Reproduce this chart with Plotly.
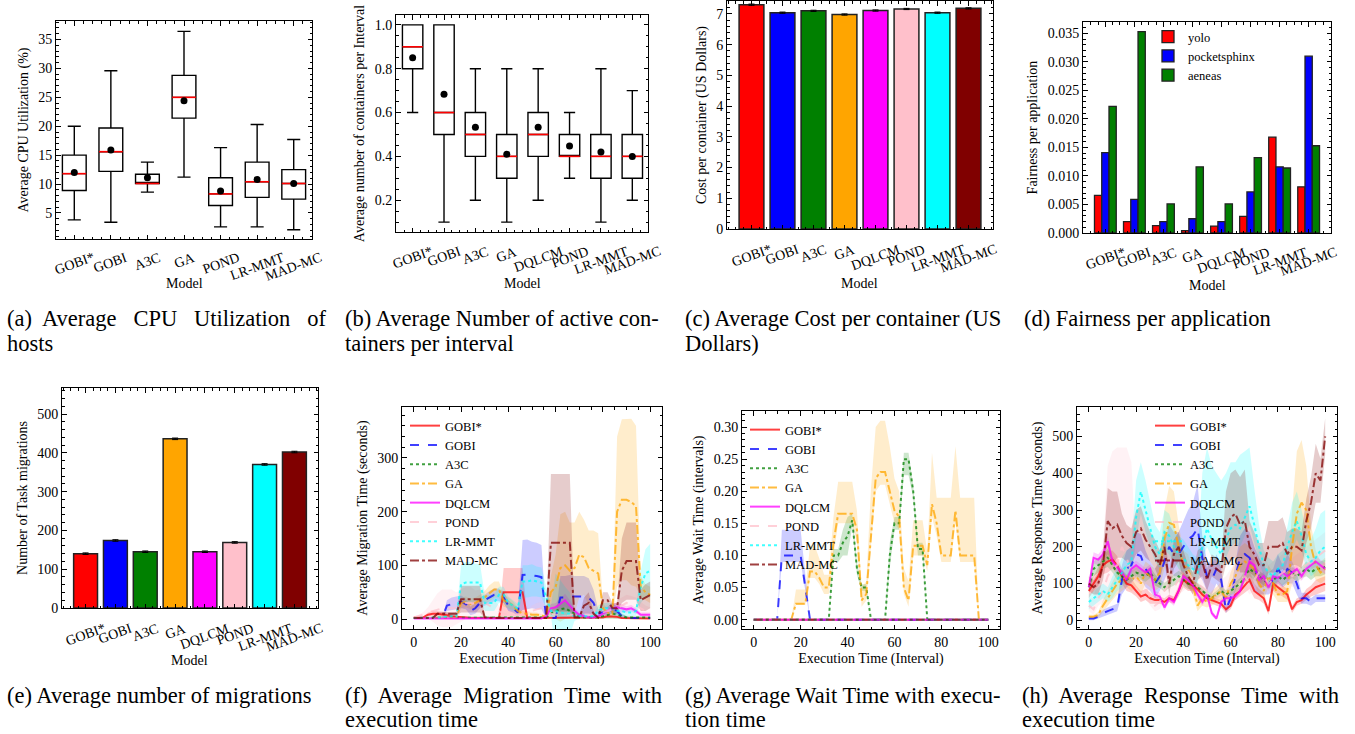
import plotly.graph_objects as go

W, H = 1355, 734
FONT = "Liberation Serif"

# ---------------- data ----------------
MODELS7 = ["GOBI*", "GOBI", "A3C", "GA", "POND", "LR-MMT", "MAD-MC"]
MODELS8 = ["GOBI*", "GOBI", "A3C", "GA", "DQLCM", "POND", "LR-MMT", "MAD-MC"]
MODEL_COLORS = ["red", "blue", "green", "orange", "magenta", "pink", "cyan", "maroon"]

# (a) CPU utilisation box stats
CPU_LOW = [3.8, 3.4, 8.6, 11.2, 2.6, 2.6, 2.1]
CPU_Q1 = [8.9, 12.2, 10.1, 21.4, 6.3, 7.7, 7.4]
CPU_MED = [11.8, 15.6, 10.1, 25.0, 8.3, 10.4, 10.1]
CPU_Q3 = [15.0, 19.7, 11.7, 28.8, 11.1, 13.8, 12.5]
CPU_HIGH = [20.0, 29.6, 13.8, 36.4, 16.3, 20.3, 17.7]
CPU_MEAN = [12.0, 15.9, 11.1, 24.4, 8.8, 10.8, 10.1]

# (b) active containers box stats
CONT_LOW = [0.6, 0.1, 0.2, 0.1, 0.2, 0.3, 0.1, 0.2]
CONT_Q1 = [0.8, 0.5, 0.4, 0.3, 0.4, 0.4, 0.3, 0.3]
CONT_MED = [0.9, 0.6, 0.5, 0.4, 0.5, 0.4, 0.4, 0.4]
CONT_Q3 = [1.0, 1.0, 0.6, 0.5, 0.6, 0.5, 0.5, 0.5]
CONT_HIGH = [1.0, 1.0, 0.8, 0.8, 0.8, 0.6, 0.8, 0.7]
CONT_MEAN = [0.85, 0.683, 0.533, 0.41, 0.533, 0.447, 0.42, 0.40]

# (c) cost per container
COST = [7.30, 7.04, 7.10, 6.98, 7.11, 7.16, 7.04, 7.18]
COST_ERR = [0.02, 0.02, 0.02, 0.02, 0.02, 0.02, 0.02, 0.02]

# (d) fairness
APPS = ["yolo", "pocketsphinx", "aeneas"]
APP_COLORS = ["red", "blue", "green"]
FAIR_YOLO = [0.0066, 0.0020, 0.0013, 0.0004, 0.0012, 0.0029, 0.0168, 0.0081]
FAIR_POCKET = [0.0141, 0.0059, 0.0020, 0.0025, 0.0020, 0.0072, 0.0116, 0.0310]
FAIR_AENEAS = [0.0222, 0.0353, 0.0051, 0.0116, 0.0051, 0.0132, 0.0114, 0.0153]

# (e) migrations
MIGR = [140, 174, 145, 436, 145, 169, 370, 402]
MIGR_ERR = [2, 2, 2, 2, 2, 2, 2, 2]

# time axis (intervals)
X = [0, 2, 4, 6, 8, 10, 12, 14, 16, 18, 20, 22, 24, 26, 28, 30, 32, 34, 36, 38,
     40, 42, 44, 46, 48, 50, 52, 54, 56, 58, 60, 62, 64, 66, 68, 70, 72, 74, 76, 78,
     80, 82, 84, 86, 88, 90, 92, 94, 96, 98, 100]

# (f) migration time: mean and band spread
F_GOBIS = [3, 3, 3, 8, 10, 10, 9, 7, 5, 4, 3, 3, 2, 2, 2, 2, 2, 2, 2, 50,
           50, 50, 50, 50, 2, 2, 2, 2, 2, 2, 2, 3, 3, 3, 3, 3, 2, 2, 2, 2,
           3, 5, 5, 4, 2, 2, 2, 2, 1, 1, 1]
F_GOBIS_SP = [1, 1, 1, 4, 5, 5, 5, 4, 3, 2, 2, 2, 1, 1, 1, 1, 1, 1, 1, 45,
              45, 45, 45, 45, 1, 1, 1, 1, 1, 1, 1, 2, 2, 2, 2, 2, 1, 1, 1, 1,
              2, 3, 3, 3, 1, 1, 1, 1, 1, 1, 1]
F_GOBI = [2, 2, 2, 2, 2, 2, 2, 25, 28, 30, 32, 28, 15, 20, 30, 35, 40, 45, 45, 40,
          25, 20, 12, 82, 83, 82, 80, 78, 3, 2, 2, 40, 40, 42, 42, 42, 42, 40, 30, 10,
          12, 15, 20, 15, 5, 3, 2, 2, 2, 2, 2]
F_GOBI_SP = [1, 1, 1, 1, 1, 1, 1, 10, 12, 12, 12, 10, 8, 10, 10, 10, 12, 12, 12, 10,
             10, 8, 6, 65, 65, 62, 62, 60, 2, 1, 1, 40, 40, 40, 38, 38, 38, 36, 25, 8,
             8, 8, 10, 8, 4, 2, 1, 1, 1, 1, 1]
F_A3C = [2, 2, 2, 2, 3, 3, 3, 3, 3, 3, 3, 3, 3, 3, 3, 3, 3, 3, 3, 3,
         3, 3, 3, 3, 3, 3, 3, 3, 3, 10, 15, 18, 20, 15, 10, 5, 3, 3, 3, 3,
         5, 8, 10, 8, 5, 3, 3, 3, 3, 3, 3]
F_A3C_SP = [1, 1, 1, 1, 2, 2, 2, 2, 2, 2, 2, 2, 2, 2, 2, 2, 2, 2, 2, 2,
            2, 2, 2, 2, 2, 2, 2, 2, 2, 6, 10, 12, 12, 10, 6, 4, 3, 3, 3, 3,
            5, 8, 10, 8, 5, 3, 3, 3, 3, 3, 3]
F_GA = [2, 2, 2, 2, 2, 2, 2, 2, 2, 2, 30, 32, 28, 30, 35, 40, 48, 55, 55, 35,
        30, 25, 15, 10, 10, 8, 8, 6, 5, 50, 60, 95, 100, 90, 95, 120, 115, 95, 90, 85,
        20, 12, 10, 200, 222, 222, 218, 210, 60, 50, 45]
F_GA_SP = [1, 1, 1, 1, 1, 1, 1, 1, 1, 1, 10, 10, 10, 10, 10, 12, 15, 15, 15, 12,
           10, 8, 6, 5, 5, 4, 4, 3, 3, 30, 60, 100, 100, 90, 85, 80, 70, 70, 75, 75,
           10, 6, 5, 140, 150, 150, 155, 150, 20, 15, 15]
F_DQLCM = [1, 1, 1, 1, 1, 1, 1, 1, 1, 1, 1, 1, 1, 1, 1, 1, 1, 1, 1, 1,
           1, 1, 1, 1, 1, 1, 1, 1, 5, 20, 22, 28, 35, 25, 15, 8, 5, 3, 3, 5,
           10, 15, 20, 22, 20, 18, 20, 15, 8, 8, 8]
F_DQLCM_SP = [1, 1, 1, 1, 1, 1, 1, 1, 1, 1, 1, 1, 1, 1, 1, 1, 1, 1, 1, 1,
              1, 1, 1, 1, 1, 1, 1, 1, 3, 8, 8, 10, 12, 10, 6, 4, 3, 2, 2, 3,
              5, 6, 8, 8, 8, 6, 6, 5, 4, 4, 4]
F_POND = [3, 5, 8, 12, 15, 18, 20, 20, 20, 20, 25, 30, 30, 28, 30, 30, 25, 20, 15, 10,
          8, 8, 8, 8, 10, 15, 18, 20, 15, 10, 8, 8, 8, 8, 8, 8, 8, 8, 8, 10,
          12, 15, 18, 20, 25, 30, 28, 25, 20, 15, 12]
F_POND_SP = [2, 3, 5, 10, 20, 30, 35, 35, 35, 30, 30, 30, 30, 25, 25, 25, 20, 15, 10, 8,
             6, 6, 6, 6, 8, 10, 12, 12, 10, 8, 6, 6, 6, 6, 6, 6, 6, 6, 6, 8,
             10, 12, 12, 15, 15, 15, 15, 15, 12, 10, 10]
F_LRMMT = [2, 2, 2, 2, 2, 2, 3, 5, 5, 5, 65, 68, 68, 68, 68, 30, 30, 30, 45, 45,
           30, 25, 20, 70, 70, 72, 70, 68, 40, 15, 15, 12, 10, 10, 5, 5, 5, 5, 5, 15,
           20, 20, 20, 15, 15, 12, 12, 15, 60, 85, 90]
F_LRMMT_SP = [1, 1, 1, 1, 1, 1, 2, 3, 3, 3, 35, 38, 38, 35, 35, 15, 15, 15, 15, 15,
              12, 10, 8, 30, 30, 30, 28, 28, 20, 10, 70, 60, 50, 40, 8, 5, 4, 4, 4, 10,
              10, 10, 10, 8, 8, 6, 6, 8, 30, 45, 50]
F_MADMC = [2, 2, 2, 2, 2, 10, 10, 10, 10, 10, 37, 37, 37, 37, 37, 3, 2, 2, 2, 2,
           2, 2, 2, 2, 2, 2, 2, 2, 2, 142, 142, 142, 142, 142, 3, 3, 25, 30, 10, 3,
           35, 35, 20, 20, 90, 108, 108, 108, 35, 40, 45]
F_MADMC_SP = [1, 1, 1, 1, 1, 3, 3, 3, 3, 3, 25, 25, 25, 25, 25, 2, 1, 1, 1, 1,
              1, 1, 1, 1, 1, 1, 1, 1, 1, 128, 128, 128, 128, 128, 2, 2, 15, 20, 5, 2,
              15, 15, 10, 10, 60, 72, 72, 72, 20, 25, 25]

# (g) wait time: mean, lower spread, upper spread
ZERO51 = [0, 0, 0, 0, 0, 0, 0, 0, 0, 0, 0, 0, 0, 0, 0, 0, 0, 0, 0, 0,
          0, 0, 0, 0, 0, 0, 0, 0, 0, 0, 0, 0, 0, 0, 0, 0, 0, 0, 0, 0,
          0, 0, 0, 0, 0, 0, 0, 0, 0, 0, 0]
G_GOBI = [0, 0, 0, 0, 0, 0, 0.1, 0.1, 0.1, 0.1, 0.1, 0.05, 0, 0, 0, 0, 0, 0, 0, 0,
          0, 0, 0, 0, 0, 0, 0, 0, 0, 0, 0, 0, 0, 0, 0, 0, 0, 0, 0, 0,
          0, 0, 0, 0, 0, 0, 0, 0, 0, 0, 0]
G_GOBI_LO = [0, 0, 0, 0, 0, 0, 0.01, 0.01, 0.01, 0.01, 0.01, 0.005, 0, 0, 0, 0, 0, 0, 0, 0,
             0, 0, 0, 0, 0, 0, 0, 0, 0, 0, 0, 0, 0, 0, 0, 0, 0, 0, 0, 0,
             0, 0, 0, 0, 0, 0, 0, 0, 0, 0, 0]
G_GOBI_HI = [0, 0, 0, 0, 0, 0, 0.04, 0.04, 0.04, 0.04, 0.04, 0.02, 0, 0, 0, 0, 0, 0, 0, 0,
             0, 0, 0, 0, 0, 0, 0, 0, 0, 0, 0, 0, 0, 0, 0, 0, 0, 0, 0, 0,
             0, 0, 0, 0, 0, 0, 0, 0, 0, 0, 0]
G_A3C = [0, 0, 0, 0, 0, 0, 0, 0, 0, 0, 0, 0, 0, 0, 0, 0, 0, 0.1, 0.1, 0.12,
         0.13, 0.155, 0.08, 0.05, 0.05, 0, 0, 0, 0, 0.1, 0.15, 0.15, 0.25, 0.25, 0.2, 0.11, 0.11, 0, 0, 0,
         0, 0, 0, 0, 0, 0, 0, 0, 0, 0, 0]
G_A3C_LO = [0, 0, 0, 0, 0, 0, 0, 0, 0, 0, 0, 0, 0, 0, 0, 0, 0, 0.01, 0.01, 0.02,
            0.03, 0.01, 0.01, 0.005, 0.005, 0, 0, 0, 0, 0.02, 0.01, 0.01, 0.025, 0.025, 0.01, 0.01, 0.01, 0, 0, 0,
            0, 0, 0, 0, 0, 0, 0, 0, 0, 0, 0]
G_A3C_HI = [0, 0, 0, 0, 0, 0, 0, 0, 0, 0, 0, 0, 0, 0, 0, 0, 0, 0.01, 0.01, 0.02,
            0.03, 0.01, 0.01, 0.005, 0.005, 0, 0, 0, 0, 0.02, 0.01, 0.01, 0.01, 0.01, 0.01, 0.01, 0.01, 0, 0, 0,
            0, 0, 0, 0, 0, 0, 0, 0, 0, 0, 0]
G_GA = [0, 0, 0, 0, 0, 0, 0, 0, 0, 0.025, 0.025, 0.025, 0.075, 0.075, 0.065, 0.05, 0.05, 0.12, 0.165, 0.165,
        0.165, 0.165, 0.14, 0.03, 0.04, 0.135, 0.22, 0.23, 0.23, 0.2, 0.17, 0.16, 0.05, 0.03, 0.115, 0.115, 0.115, 0.085, 0.18, 0.15,
        0.1, 0.1, 0.1, 0.17, 0.1, 0.1, 0.1, 0.1, 0, 0, 0]
G_GA_LO = [0, 0, 0, 0, 0, 0, 0, 0, 0, 0.002, 0.002, 0.002, 0.01, 0.01, 0.01, 0.01, 0.01, 0.02, 0.015, 0.015,
           0.015, 0.015, 0.02, 0.01, 0.01, 0.02, 0.02, 0.02, 0.02, 0.02, 0.02, 0.02, 0.01, 0.01, 0.015, 0.015, 0.015, 0.01, 0.02, 0.02,
           0.01, 0.01, 0.01, 0.02, 0.01, 0.01, 0.01, 0.01, 0, 0, 0]
G_GA_HI = [0, 0, 0, 0, 0, 0, 0, 0, 0, 0.022, 0.022, 0.022, 0.04, 0.04, 0.03, 0.02, 0.02, 0.04, 0.05, 0.05,
           0.05, 0.05, 0.03, 0.02, 0.02, 0.07, 0.08, 0.08, 0.08, 0.07, 0.05, 0.04, 0.03, 0.03, 0.04, 0.04, 0.04, 0.02, 0.08, 0.04,
           0.09, 0.09, 0.09, 0.1, 0.09, 0.09, 0.09, 0.09, 0, 0, 0]

# (h) response time: mean, lower spread, upper spread
H_GOBIS = [80, 100, 120, 150, 160, 165, 150, 120, 100, 95, 80, 65, 70, 60, 55, 55, 50, 60, 55, 80,
           110, 100, 95, 85, 70, 60, 55, 50, 45, 30, 40, 70, 80, 95, 110, 80, 70, 60, 25, 100,
           90, 80, 70, 30, 50, 55, 70, 80, 90, 95, 100]
H_GOBIS_SP = [20, 20, 25, 25, 30, 25, 25, 20, 20, 20, 15, 15, 15, 15, 10, 10, 10, 10, 10, 15,
              20, 20, 15, 15, 15, 10, 10, 10, 10, 10, 10, 15, 15, 20, 25, 20, 15, 15, 10, 20,
              20, 15, 15, 10, 10, 10, 15, 15, 20, 20, 20]
H_GOBI = [5, 5, 10, 20, 25, 30, 35, 110, 140, 150, 180, 175, 140, 120, 100, 120, 160, 200, 180, 180,
          200, 220, 230, 250, 170, 120, 110, 140, 110, 30, 60, 120, 170, 180, 170, 140, 120, 110, 100, 110,
          140, 120, 140, 130, 100, 60, 60, 50, 60, 60, 60]
H_GOBI_SP = [5, 5, 5, 8, 10, 10, 10, 40, 50, 50, 60, 60, 50, 40, 40, 40, 50, 60, 60, 60,
             70, 80, 90, 120, 60, 40, 40, 40, 30, 10, 20, 40, 60, 70, 70, 60, 50, 40, 30, 30,
             40, 30, 40, 30, 30, 15, 15, 10, 10, 10, 10]
H_A3C = [90, 140, 150, 160, 170, 150, 130, 120, 110, 120, 130, 125, 120, 130, 110, 100, 90, 100, 110, 120,
         110, 100, 95, 90, 80, 70, 60, 70, 80, 70, 80, 90, 100, 120, 140, 130, 120, 110, 100, 110,
         120, 110, 120, 130, 120, 130, 140, 130, 140, 140, 145]
H_A3C_SP = [15, 20, 20, 20, 25, 20, 20, 15, 15, 15, 15, 15, 15, 15, 15, 12, 12, 12, 15, 15,
            15, 15, 12, 12, 12, 10, 10, 10, 12, 12, 12, 15, 15, 15, 20, 20, 15, 15, 15, 15,
            15, 15, 15, 15, 15, 15, 20, 20, 20, 20, 20]
H_GA = [10, 10, 15, 40, 60, 80, 100, 110, 120, 110, 120, 100, 130, 120, 110, 130, 220, 265, 260, 200,
        150, 140, 100, 40, 60, 50, 60, 70, 80, 60, 100, 120, 150, 160, 150, 140, 100, 80, 120, 100,
        70, 70, 80, 200, 290, 320, 300, 200, 150, 130, 140]
H_GA_SP = [5, 5, 8, 15, 20, 25, 30, 30, 30, 30, 30, 30, 30, 30, 30, 40, 80, 100, 90, 60,
           40, 40, 30, 15, 20, 15, 20, 20, 25, 20, 30, 40, 50, 50, 50, 40, 30, 25, 30, 30,
           20, 20, 30, 100, 170, 170, 120, 60, 40, 30, 30]
H_DQLCM = [90, 170, 165, 180, 215, 160, 145, 130, 110, 140, 150, 140, 130, 140, 70, 65, 35, 60, 50, 80,
           120, 110, 95, 70, 50, 70, 20, 5, 50, 60, 60, 65, 80, 120, 160, 150, 110, 120, 90, 120,
           115, 130, 120, 130, 140, 120, 140, 150, 160, 150, 140]
H_DQLCM_SP = [10, 15, 15, 15, 15, 15, 15, 12, 12, 12, 12, 12, 12, 12, 10, 10, 8, 10, 10, 10,
              12, 12, 10, 10, 10, 10, 8, 5, 10, 10, 10, 10, 10, 12, 15, 15, 12, 12, 10, 12,
              12, 12, 12, 12, 12, 12, 12, 12, 15, 15, 15]
H_POND = [40, 30, 60, 80, 120, 140, 150, 200, 170, 130, 110, 100, 90, 60, 40, 50, 80, 100, 90, 110,
          120, 130, 110, 100, 90, 80, 70, 60, 70, 80, 90, 100, 110, 120, 100, 110, 130, 120, 100, 110,
          120, 130, 140, 120, 130, 140, 150, 160, 170, 180, 190]
H_POND_LO = [15, 15, 20, 30, 50, 60, 60, 60, 60, 50, 40, 40, 30, 20, 15, 20, 30, 40, 30, 40,
             40, 40, 40, 40, 30, 30, 20, 20, 25, 30, 30, 30, 30, 30, 30, 30, 30, 30, 30, 30,
             30, 30, 30, 30, 30, 30, 30, 30, 30, 30, 30]
H_POND_HI = [20, 30, 60, 120, 300, 320, 320, 270, 300, 300, 80, 60, 50, 40, 30, 30, 40, 50, 40, 50,
             60, 60, 50, 50, 40, 40, 30, 30, 40, 40, 50, 60, 60, 60, 50, 50, 60, 60, 50, 50,
             50, 50, 60, 50, 50, 50, 50, 50, 50, 50, 50]
H_LRMMT = [50, 60, 70, 80, 70, 90, 110, 130, 150, 160, 280, 350, 300, 250, 200, 180, 240, 230, 200, 180,
           170, 150, 140, 130, 200, 250, 220, 200, 180, 220, 250, 260, 250, 280, 310, 260, 200, 150, 130, 120,
           140, 150, 200, 240, 270, 230, 180, 160, 170, 190, 200]
H_LRMMT_LO = [20, 20, 20, 20, 20, 30, 30, 40, 40, 40, 60, 60, 60, 50, 40, 40, 50, 50, 40, 40,
              40, 40, 30, 30, 40, 50, 50, 40, 40, 50, 50, 50, 50, 50, 50, 50, 40, 30, 30, 30,
              30, 30, 40, 50, 50, 40, 40, 40, 40, 40, 40]
H_LRMMT_HI = [20, 20, 20, 20, 20, 30, 30, 40, 40, 40, 100, 80, 80, 70, 60, 60, 60, 60, 50, 50,
              50, 50, 40, 40, 200, 220, 200, 200, 200, 180, 180, 170, 200, 180, 160, 100, 60, 40, 40, 40,
              40, 40, 60, 80, 80, 70, 60, 60, 80, 100, 100]
H_MADMC = [100, 90, 100, 150, 270, 250, 260, 230, 210, 200, 240, 250, 220, 200, 180, 150, 200, 100, 180, 200,
           150, 120, 100, 150, 160, 110, 150, 140, 130, 250, 280, 290, 260, 270, 200, 180, 150, 150, 200, 200,
           200, 210, 180, 200, 200, 190, 270, 320, 400, 380, 500]
H_MADMC_SP = [20, 20, 30, 40, 90, 100, 90, 60, 50, 50, 60, 60, 50, 40, 40, 40, 40, 30, 40, 40,
              40, 30, 30, 40, 40, 30, 30, 30, 30, 100, 120, 120, 130, 140, 70, 60, 60, 60, 70, 70,
              70, 70, 60, 50, 50, 50, 60, 70, 80, 60, 50]

F_SERIES = [(F_GOBIS, F_GOBIS_SP, F_GOBIS_SP), (F_GOBI, F_GOBI_SP, F_GOBI_SP),
            (F_A3C, F_A3C_SP, F_A3C_SP), (F_GA, F_GA_SP, F_GA_SP),
            (F_DQLCM, F_DQLCM_SP, F_DQLCM_SP), (F_POND, F_POND_SP, F_POND_SP),
            (F_LRMMT, F_LRMMT_SP, F_LRMMT_SP), (F_MADMC, F_MADMC_SP, F_MADMC_SP)]
G_SERIES = [(ZERO51, ZERO51, ZERO51), (G_GOBI, G_GOBI_LO, G_GOBI_HI),
            (G_A3C, G_A3C_LO, G_A3C_HI), (G_GA, G_GA_LO, G_GA_HI),
            (ZERO51, ZERO51, ZERO51), (ZERO51, ZERO51, ZERO51),
            (ZERO51, ZERO51, ZERO51), (ZERO51, ZERO51, ZERO51)]
H_SERIES = [(H_GOBIS, H_GOBIS_SP, H_GOBIS_SP), (H_GOBI, H_GOBI_SP, H_GOBI_SP),
            (H_A3C, H_A3C_SP, H_A3C_SP), (H_GA, H_GA_SP, H_GA_SP),
            (H_DQLCM, H_DQLCM_SP, H_DQLCM_SP), (H_POND, H_POND_LO, H_POND_HI),
            (H_LRMMT, H_LRMMT_LO, H_LRMMT_HI), (H_MADMC, H_MADMC_SP, H_MADMC_SP)]

# ---------------- styling ----------------
RGB = {"red": (255, 0, 0), "blue": (0, 0, 255), "green": (0, 128, 0),
       "orange": (255, 165, 0), "magenta": (255, 0, 255), "pink": (255, 192, 203),
       "cyan": (0, 255, 255), "maroon": (128, 0, 0)}
DASHES = ["solid", "dash", "dot", "dashdot", "solid", "dash", "dot", "dashdot"]


def rgba(name, a):
    r, g, b = RGB[name]
    return f"rgba({r},{g},{b},{a})"


# panel boxes in pixels: left, top, right, bottom
BOXES = {
    1: (56, 21, 312, 239), 2: (396, 15, 648, 232), 3: (727, 1, 993, 229),
    4: (1083, 22, 1331, 233), 5: (62, 388, 318, 608), 6: (402, 407, 662, 629),
    7: (742, 411, 1000, 629), 8: (1077, 407, 1337, 629),
}

TICKFONT = dict(family=FONT, size=14, color="black")


def base_axis(minor_dtick, **kw):
    d = dict(showline=True, linecolor="black", linewidth=1, mirror="allticks",
             ticks="inside", ticklen=4.5, tickwidth=1, tickcolor="black",
             showgrid=False, zeroline=False, tickfont=TICKFONT, automargin=False,
             minor=dict(ticks="inside", ticklen=2.5, tickwidth=0.8, tickcolor="black",
                        dtick=minor_dtick, showgrid=False))
    d.update(kw)
    return d


fig = go.Figure()
layout = {}
annotations = []


def axname(i, kind):
    return kind if i == 1 else f"{kind}{i}"


def set_axes(i, xkw, ykw):
    l, t, r, b = BOXES[i]
    xkw["domain"] = [l / W, r / W]
    ykw["domain"] = [1 - b / H, 1 - t / H]
    xkw["anchor"] = axname(i, "y")
    ykw["anchor"] = axname(i, "x")
    layout[axname(i, "xaxis")] = xkw
    layout[axname(i, "yaxis")] = ykw


def cat_xaxis(i, labels, rng, label_gap, model_y):
    """Category axis whose rotated labels are centred under the ticks (matplotlib style)."""
    l, t, r, b = BOXES[i]
    for p, lab in enumerate(labels):
        annotations.append(dict(x=p, xref=axname(i, "x"), y=1 - (b + label_gap) / H,
                                yref="paper", text=lab, textangle=-20, showarrow=False,
                                xanchor="center", yanchor="top", font=TICKFONT))
    annotations.append(dict(x=(l + r) / 2 / W, xref="paper", y=1 - model_y / H,
                            yref="paper", text="Model", showarrow=False,
                            xanchor="center", yanchor="middle", font=TICKFONT))
    return base_axis(0.25, range=rng, tickmode="array",
                     tickvals=list(range(len(labels))), showticklabels=False)


def box_panel(i, labels, low, q1, med, q3, high, mean):
    pos = list(range(len(labels)))
    xa, ya = axname(i, "x"), axname(i, "y")
    fig.add_trace(go.Box(x=pos, q1=q1, median=med, q3=q3, lowerfence=low,
                         upperfence=high, orientation="v", width=0.65,
                         whiskerwidth=0.55, boxpoints=False,
                         line=dict(color="black", width=1.4),
                         fillcolor="rgba(0,0,0,0)", showlegend=False,
                         hoverinfo="skip", xaxis=xa, yaxis=ya))
    mx, my = [], []
    for p, m in zip(pos, med):
        mx += [p - 0.325, p + 0.325, None]
        my += [m, m, None]
    fig.add_trace(go.Scatter(x=mx, y=my, mode="lines",
                             line=dict(color="red", width=1.6),
                             showlegend=False, hoverinfo="skip", xaxis=xa, yaxis=ya))
    fig.add_trace(go.Scatter(x=pos, y=mean, mode="markers",
                             marker=dict(color="black", size=7),
                             showlegend=False, hoverinfo="skip", xaxis=xa, yaxis=ya))


# (a)
box_panel(1, MODELS7, CPU_LOW, CPU_Q1, CPU_MED, CPU_Q3, CPU_HIGH, CPU_MEAN)
set_axes(1, cat_xaxis(1, MODELS7, [-0.5, 6.5], 8, 283),
         base_axis(1, range=[0.5, 38.2], tick0=0, dtick=5,
                   title=dict(text="Average CPU Utilization (%)", font=TICKFONT, standoff=6)))

# (b)
box_panel(2, MODELS8, CONT_LOW, CONT_Q1, CONT_MED, CONT_Q3, CONT_HIGH, CONT_MEAN)
set_axes(2, cat_xaxis(2, MODELS8, [-0.53, 7.5], 9, 283),
         base_axis(0.05, range=[0.055, 1.045], tick0=0, dtick=0.2, tickformat=".1f",
                   title=dict(text="Average number of containers per Interval",
                              font=TICKFONT, standoff=6)))

# (c)
fig.add_trace(go.Bar(x=list(range(8)), y=COST, width=0.8,
                     marker=dict(color=MODEL_COLORS, line=dict(color="#222", width=1.5)),
                     error_y=dict(type="data", array=COST_ERR, color="black",
                                  thickness=1, width=3),
                     showlegend=False, hoverinfo="skip", xaxis="x3", yaxis="y3"))
set_axes(3, cat_xaxis(3, MODELS8, [-0.79, 7.79], 10, 283),
         base_axis(0.2, range=[0, 7.42], tick0=0, dtick=1,
                   title=dict(text="Cost per container (US Dollars)", font=TICKFONT, standoff=6)))

# (d)
for name, col, vals in zip(APPS, APP_COLORS, [FAIR_YOLO, FAIR_POCKET, FAIR_AENEAS]):
    fig.add_trace(go.Bar(x=list(range(8)), y=vals, name=name,
                         marker=dict(color=col, line=dict(color="#222", width=1.3)),
                         legend="legend", hoverinfo="skip", xaxis="x4", yaxis="y4"))
set_axes(4, cat_xaxis(4, MODELS8, [-0.77, 7.77], 9, 285),
         base_axis(0.001, range=[0, 0.037], tick0=0, dtick=0.005, tickformat=".3f",
                   title=dict(text="Fairness per application", font=TICKFONT, standoff=6)))

# (e)
fig.add_trace(go.Bar(x=list(range(8)), y=MIGR, width=0.8,
                     marker=dict(color=MODEL_COLORS, line=dict(color="#222", width=1.5)),
                     error_y=dict(type="data", array=MIGR_ERR, color="black",
                                  thickness=1, width=3),
                     showlegend=False, hoverinfo="skip", xaxis="x5", yaxis="y5"))
set_axes(5, cat_xaxis(5, MODELS8, [-0.79, 7.79], 10, 660),
         base_axis(20, range=[0, 567], tick0=0, dtick=100,
                   title=dict(text="Number of Task migrations", font=TICKFONT, standoff=6)))


def time_panel(i, series, legend_name, yrng, ydtick, yminor, yfmt, ytitle):
    xa, ya = axname(i, "x"), axname(i, "y")
    for (mean, lo, hi), col in zip(series, MODEL_COLORS):
        upper = [m + h for m, h in zip(mean, hi)]
        lower = [m - l for m, l in zip(mean, lo)]
        fig.add_trace(go.Scatter(x=X + X[::-1], y=upper + lower[::-1], fill="toself",
                                 mode="lines", line=dict(width=0),
                                 fillcolor=rgba(col, 0.2), showlegend=False,
                                 hoverinfo="skip", xaxis=xa, yaxis=ya))
    for (mean, lo, hi), col, dash, name in zip(series, MODEL_COLORS, DASHES, MODELS8):
        fig.add_trace(go.Scatter(x=X, y=mean, mode="lines", name=name,
                                 line=dict(color=rgba(col, 0.75), width=2, dash=dash),
                                 legend=legend_name, hoverinfo="skip", xaxis=xa, yaxis=ya))
    xkw = base_axis(5, range=[-5, 105], tick0=0, dtick=20,
                    title=dict(text="Execution Time (Interval)", font=TICKFONT, standoff=4))
    ykw = base_axis(yminor, range=yrng, tick0=0, dtick=ydtick,
                    title=dict(text=ytitle, font=TICKFONT, standoff=6))
    if yfmt:
        ykw["tickformat"] = yfmt
    set_axes(i, xkw, ykw)


time_panel(6, F_SERIES, "legend2", [-18.6, 395], 100, 20, None, "Average Migration Time (seconds)")
time_panel(7, G_SERIES, "legend3", [-0.0145, 0.325], 0.05, 0.01, ".2f", "Average Wait Time (intervals)")
time_panel(8, H_SERIES, "legend4", [-23.5, 580], 100, 20, None, "Average Response Time (seconds)")

LEGFONT = dict(family=FONT, size=12.5, color="black")


def leg(xpx, ypx):
    return dict(x=xpx / W, y=1 - ypx / H, xanchor="left", yanchor="top",
                bgcolor="rgba(0,0,0,0)", borderwidth=0, font=LEGFONT,
                tracegroupgap=0, itemwidth=30)


layout["legend"] = leg(1148, 22)
layout["legend2"] = leg(405, 411)
layout["legend3"] = leg(745, 415)
layout["legend4"] = leg(1150, 411)

# captions
CAPTIONS = [
    (5, 319, "(a)  Average   CPU   Utilization   of"), (5, 343, "hosts"),
    (343, 319, "(b) Average Number of active con-"), (343, 343, "tainers per interval"),
    (683, 319, "(c) Average Cost per container (US"), (683, 343, "Dollars)"),
    (1022, 319, "(d) Fairness per application"),
    (5, 695, "(e) Average number of migrations"),
    (343, 695, "(f)  Average  Migration  Time  with"), (343, 719, "execution time"),
    (683, 695, "(g) Average Wait Time with execu-"), (683, 719, "tion time"),
    (1020, 695, "(h)  Average  Response  Time  with"), (1020, 719, "execution time"),
]
for xpx, ypx, text in CAPTIONS:
    annotations.append(dict(x=xpx / W, y=1 - ypx / H, xref="paper", yref="paper",
                            xanchor="left", yanchor="middle", showarrow=False,
                            text=text.replace("  ", "&nbsp; "),
                            font=dict(family=FONT, size=22.5, color="black")))

fig.update_layout(
    template="none", width=W, height=H, margin=dict(l=0, r=0, t=0, b=0),
    paper_bgcolor="white", plot_bgcolor="white",
    font=dict(family=FONT, size=14, color="black"),
    barmode="group", bargap=0.25, bargroupgap=0, hovermode=False,
    annotations=annotations, **layout,
)

fig.write_html("out.html", config={"displayModeBar": False},
               post_script="document.body.style.margin='0';document.body.style.overflow='hidden';")
